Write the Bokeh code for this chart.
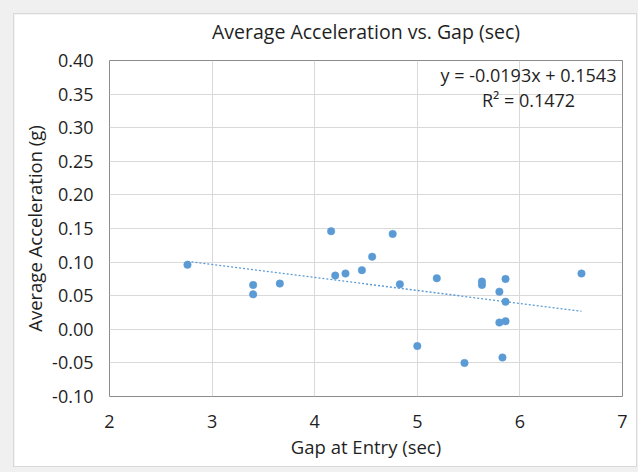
from bokeh.plotting import figure
from bokeh.layouts import column
from bokeh.models import FixedTicker, NumeralTickFormatter, Label, Range1d, Title
from bokeh.embed import file_html
from bokeh.resources import INLINE

# Data
gap = [2.76, 3.40, 3.40, 3.66, 4.16, 4.20, 4.30, 4.46, 4.56, 4.76, 4.83, 5.00,
       5.19, 5.46, 5.63, 5.63, 5.80, 5.80, 5.83, 5.86, 5.86, 5.86, 6.60]
acc = [0.096, 0.066, 0.052, 0.068, 0.146, 0.080, 0.083, 0.088, 0.108, 0.142,
       0.067, -0.025, 0.076, -0.050, 0.071, 0.066, 0.056, 0.010, -0.042, 0.075,
       0.041, 0.012, 0.083]
slope = -0.0193
intercept = 0.1543
r2 = 0.1472
x_ticks = [2, 3, 4, 5, 6, 7]
y_ticks = [-0.10, -0.05, 0.00, 0.05, 0.10, 0.15, 0.20, 0.25, 0.30, 0.35, 0.40]
title_text = "Average Acceleration vs. Gap (sec)"

FONT = "Open Sans"
TXT = "#1f1f1f"
BLUE = "#5b9bd5"

p = figure(width=622, height=452, output_backend="svg", toolbar_location=None,
           x_range=Range1d(2, 7), y_range=Range1d(-0.10, 0.40),
           min_border_left=95, min_border_right=14, min_border_top=46,
           min_border_bottom=70, title=title_text)
p.margin = (14, 2, 6, 14)
p.styles = {"outline": "1px solid #d9d9d9"}

p.border_fill_color = "white"
p.background_fill_color = "white"
p.outline_line_color = "#8c8c8c"
p.outline_line_width = 1

# spacer between the title and the plot area
p.add_layout(Title(text=" ", text_font_size="1px", standoff=13), "above")

p.title.text_font = FONT
p.title.text_font_size = "19.5px"
p.title.text_font_style = "normal"
p.title.text_color = TXT
p.title.align = "center"
p.title.standoff = 0

for ax in (p.xaxis[0], p.yaxis[0]):
    ax.major_tick_line_color = None
    ax.minor_tick_line_color = None
    ax.major_tick_out = 0
    ax.major_tick_in = 0
    ax.axis_line_color = None
    ax.major_label_text_font = FONT
    ax.major_label_text_font_size = "18px"
    ax.major_label_text_color = TXT
    ax.axis_label_text_font = FONT
    ax.axis_label_text_font_size = "18.5px"
    ax.axis_label_text_font_style = "normal"
    ax.axis_label_text_color = TXT

p.xaxis.ticker = FixedTicker(ticks=x_ticks)
p.yaxis.ticker = FixedTicker(ticks=y_ticks)
p.yaxis.formatter = NumeralTickFormatter(format="0.00")
p.xaxis.axis_label = "Gap at Entry (sec)"
p.yaxis.axis_label = "Average Acceleration (g)"
p.xaxis.major_label_standoff = 18
p.yaxis.major_label_standoff = 16
p.xaxis.axis_label_standoff = 3
p.yaxis.axis_label_standoff = 2

p.grid.grid_line_color = "#d9d9d9"
p.grid.grid_line_width = 1

# trendline from the fitted coefficients
tx = [min(gap), max(gap)]
ty = [slope * v + intercept for v in tx]
p.line(tx, ty, line_color=BLUE, line_width=1.3, line_dash="2 2")

p.scatter(gap, acc, size=7.5, fill_color=BLUE, line_color=BLUE, line_width=0.5)

eq1 = "y = {:.4f}x + {:.4f}".format(slope, intercept)
eq2 = "R² = {:.4f}".format(r2)
p.add_layout(Label(x=514, y=60, x_units="canvas", y_units="canvas", text=eq1,
                   text_align="center", text_baseline="middle",
                   text_font=FONT, text_font_size="18px", text_color=TXT))
p.add_layout(Label(x=514, y=85, x_units="canvas", y_units="canvas", text=eq2,
                   text_align="center", text_baseline="middle",
                   text_font=FONT, text_font_size="18px", text_color=TXT))

layout = column(p, width=638, height=472,
                styles={"background-color": "#f0f0f0"})

open("out.html", "w").write(file_html(layout, INLINE))
